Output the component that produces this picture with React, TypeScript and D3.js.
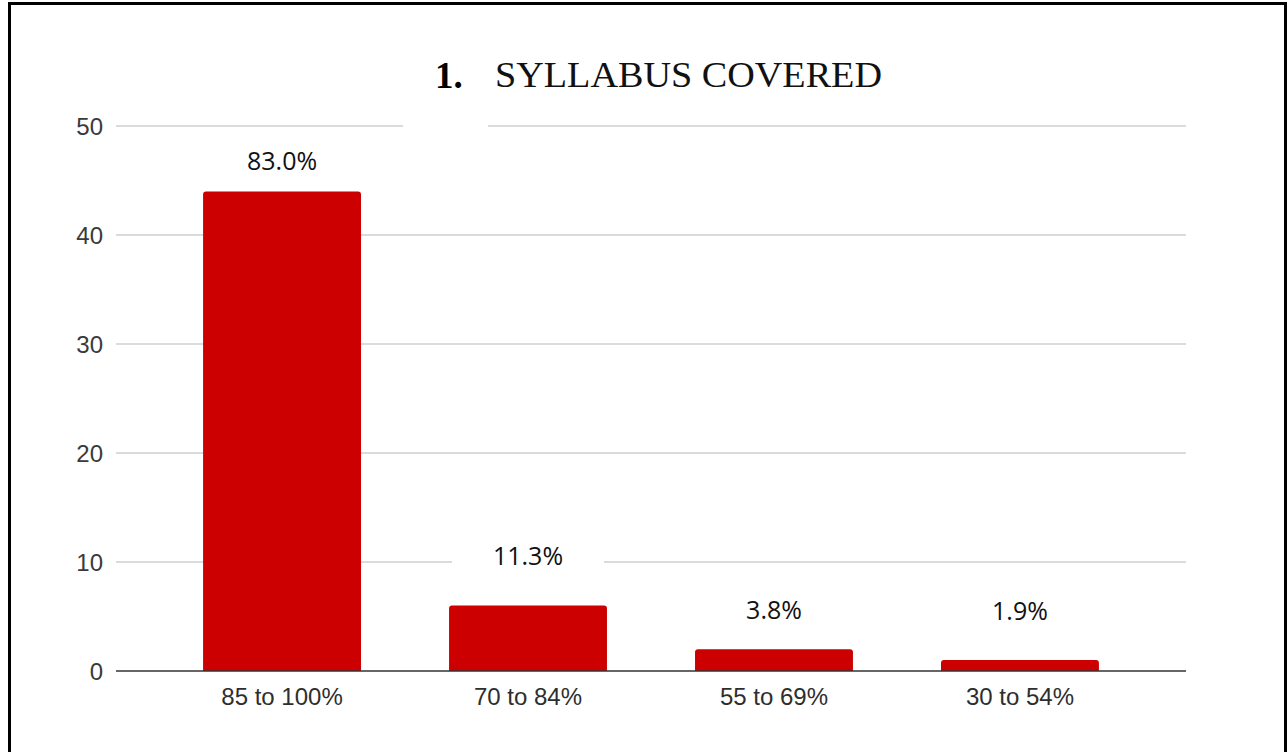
import { useEffect, useRef } from 'react';
import * as d3 from 'd3';

const categories = ['85 to 100%', '70 to 84%', '55 to 69%', '30 to 54%'];
const counts = [44, 6, 2, 1];
const yTicks = [0, 10, 20, 30, 40, 50];
const titleNumber = '1.';
const titleText = 'SYLLABUS COVERED';

// how far each (hand placed) percentage label sits above its bar, px
const labelLift = [21, 41, 30, 40];

const W = 1288;
const H = 752;

export default function App() {
  const svgRef = useRef<SVGSVGElement>(null);

  useEffect(() => {
    if (!svgRef.current) return;
    const svg = d3.select(svgRef.current);
    svg.selectAll('*').remove();

    const left = 116;
    const right = 1186;
    const top = 126;
    const bottom = 671;

    const total = d3.sum(counts);
    const pct = counts.map(c => ((c / total) * 100).toFixed(1) + '%');

    const x = d3.scaleBand<string>()
      .domain(categories)
      .range([left, right])
      .paddingInner(0.358)
      .paddingOuter(0.354);

    const y = d3.scaleLinear().domain([0, 50]).range([bottom, top]);

    svg.append('rect')
      .attr('width', W).attr('height', H).attr('fill', '#fff');

    // gridlines
    svg.append('g')
      .selectAll('line')
      .data(yTicks.filter(t => t !== 0))
      .join('line')
      .attr('x1', left).attr('x2', right)
      .attr('y1', d => y(d)).attr('y2', d => y(d))
      .attr('stroke', '#cfcfcf')
      .attr('stroke-width', 1.5);

    // y tick labels
    svg.append('g')
      .selectAll('text')
      .data(yTicks)
      .join('text')
      .attr('x', 103)
      .attr('y', d => y(d) + 9)
      .attr('text-anchor', 'end')
      .attr('font-family', '"Liberation Sans", Arial, sans-serif')
      .attr('font-size', 24)
      .attr('fill', '#3a3a3a')
      .text(d => d);

    // bars with rounded top corners
    const r = 3;
    svg.append('g')
      .selectAll('path')
      .data(counts)
      .join('path')
      .attr('fill', '#cc0000')
      .attr('d', (d, i) => {
        const x0 = x(categories[i])!;
        const x1 = x0 + x.bandwidth();
        const yt = y(d);
        const yb = y(0);
        return `M${x0},${yb}V${yt + r}Q${x0},${yt} ${x0 + r},${yt}H${x1 - r}Q${x1},${yt} ${x1},${yt + r}V${yb}Z`;
      });

    // baseline
    svg.append('line')
      .attr('x1', left).attr('x2', right)
      .attr('y1', y(0)).attr('y2', y(0))
      .attr('stroke', '#333')
      .attr('stroke-width', 1.5);

    // category labels
    svg.append('g')
      .selectAll('text')
      .data(categories)
      .join('text')
      .attr('x', d => x(d)! + x.bandwidth() / 2)
      .attr('y', 705)
      .attr('text-anchor', 'middle')
      .attr('font-family', '"Liberation Sans", Arial, sans-serif')
      .attr('font-size', 24)
      .attr('fill', '#2e2e2e')
      .text(d => d);

    // percentage labels on white boxes
    const lab = svg.append('g')
      .selectAll('g')
      .data(counts)
      .join('g')
      .attr('transform', (d, i) =>
        `translate(${x(categories[i])! + x.bandwidth() / 2},${y(d) - labelLift[i]})`);
    lab.append('rect')
      .attr('x', -76).attr('y', -26)
      .attr('width', 152).attr('height', 36)
      .attr('fill', '#fff');
    lab.append('text')
      .attr('text-anchor', 'middle')
      .attr('font-family', '"Open Sans", "Noto Sans", sans-serif')
      .attr('font-size', 25)
      .attr('fill', '#111')
      .text((d, i) => pct[i]);

    // title
    svg.append('rect')
      .attr('x', 403).attr('y', 40)
      .attr('width', 85).attr('height', 90)
      .attr('fill', '#fff');
    svg.append('text')
      .attr('x', 435).attr('y', 88)
      .attr('font-family', '"Liberation Serif", "Times New Roman", serif')
      .attr('font-weight', 'bold')
      .attr('font-size', 37)
      .attr('fill', '#000')
      .text(titleNumber);
    svg.append('text')
      .attr('x', 495).attr('y', 87)
      .attr('font-family', '"Liberation Serif", "Times New Roman", serif')
      .attr('font-size', 36)
      .attr('fill', '#111')
      .attr('textLength', 387)
      .attr('lengthAdjust', 'spacingAndGlyphs')
      .text(titleText);

    // frame
    svg.append('path')
      .attr('d', `M9.5,${H + 5}V3.5H1285.5V${H + 5}`)
      .attr('fill', 'none')
      .attr('stroke', '#000')
      .attr('stroke-width', 3);
  }, []);

  return (
    <>
      <style>{'body{margin:0;overflow:hidden}'}</style>
      <svg ref={svgRef} width={W} height={H} style={{ display: 'block' }} />
    </>
  );
}
